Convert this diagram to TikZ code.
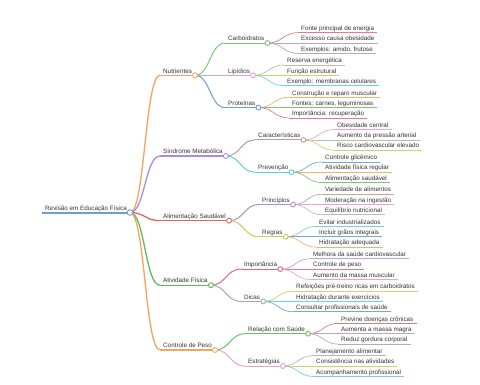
\documentclass[tikz,border=0pt]{standalone}
\usepackage{fontspec}
\setmainfont{Liberation Sans}
\usetikzlibrary{calc}
\definecolor{txt}{HTML}{333333}
\definecolor{cRoot}{HTML}{6C9FD2}
\definecolor{cNut}{HTML}{F5A55A}
\definecolor{cSin}{HTML}{A58FD8}
\definecolor{cAli}{HTML}{E06565}
\definecolor{cAti}{HTML}{5DBB5D}
\definecolor{cCon}{HTML}{F5A55A}
\definecolor{cCarb}{HTML}{7CC67C}
\definecolor{cLip}{HTML}{E99BD8}
\definecolor{cProt}{HTML}{6C9FD2}
\definecolor{cChar}{HTML}{B89C9C}
\definecolor{cPrev}{HTML}{5ECFDC}
\definecolor{cPrinc}{HTML}{A893D8}
\definecolor{cRegr}{HTML}{C9CD5A}
\definecolor{cImp}{HTML}{E06A7A}
\definecolor{cDic}{HTML}{A8A8A8}
\definecolor{cRel}{HTML}{6CC06C}
\definecolor{cEst}{HTML}{E9A2D2}
\definecolor{pRed}{HTML}{E8798A}
\definecolor{pLav}{HTML}{B8A5E0}
\definecolor{pBrn}{HTML}{BFA8A8}
\definecolor{pGry}{HTML}{BBBBBB}
\definecolor{pOli}{HTML}{CFD36A}
\definecolor{pCya}{HTML}{6FD3E0}
\definecolor{pOra}{HTML}{F5B070}
\definecolor{pGrn}{HTML}{7CC67C}
\definecolor{pPnk}{HTML}{EEA0D8}
\definecolor{pBlu}{HTML}{78A8D8}
\definecolor{pGL}{HTML}{BBB0B8}
\tikzset{
  lbl/.style={font=\fontsize{6.3}{7}\selectfont, text=txt, inner xsep=3pt, inner ysep=0pt},
  wroot/.style={line width=2pt},
  wone/.style={line width=1.3pt},
  wtwo/.style={line width=1pt},
  wthree/.style={line width=0.7pt},
  dotst/.style={fill=white, line width=0.9pt}
}
% name, x0, y, text, colour, width style
\newcommand\mnode[6]{%
  \coordinate (#1-s) at (#2,#3);
  \node[lbl, anchor=base west] (#1) at (#2,#3-2.3) {#4};
  \coordinate (#1-e) at (#1.east |- #1-s);
  \draw[#5,#6] (#1-s) -- (#1-e);
}
% parent, child, colour, width style
\newcommand\medge[4]{%
  \draw[#3,#4] (#1-e) .. controls ($(#1-e)!0.5!(#1-e -| #2-s)$) and ($(#2-s)!0.5!(#2-s -| #1-e)$) .. (#2-s);
}
\newcommand\mdot[3]{\draw[dotst,draw=#2] (#1-e) circle[radius=#3];}
% leaf with edge: parent, name, x0, y, text, colour
\newcommand\mleaf[6]{%
  \mnode{#2}{#3}{#4}{#5}{#6}{wthree}
  \medge{#1}{#2}{#6}{wthree}
}
\begin{document}
\begin{tikzpicture}[x=1pt,y=-1pt]
\useasboundingbox (0,0) rectangle (480,384);
\fill[white] (0,0) rectangle (480,384);

% root
\mnode{r}{42}{212.5}{Revisão em Educação Física}{cRoot}{wroot}

% level 1
\mnode{a}{160}{75.3}{Nutrientes}{cNut}{wone}
\mnode{b}{160}{156}{Síndrome Metabólica}{cSin}{wone}
\mnode{c}{160}{220.6}{Alimentação Saudável}{cAli}{wone}
\mnode{d}{160}{285.2}{Atividade Física}{cAti}{wone}
\mnode{f}{160}{349.9}{Controle de Peso}{cCon}{wone}
\medge{r}{a}{cNut}{wone}
\medge{r}{b}{cSin}{wone}
\medge{r}{c}{cAli}{wone}
\medge{r}{d}{cAti}{wone}
\medge{r}{f}{cCon}{wone}

% level 2
\mnode{aa}{225}{43}{Carboidratos}{cCarb}{wtwo}
\mnode{ab}{225}{75.3}{Lipídios}{cLip}{wtwo}
\mnode{ac}{225}{107.6}{Proteínas}{cProt}{wtwo}
\mnode{ba}{255}{139.9}{Características}{cChar}{wtwo}
\mnode{bb}{255}{172.2}{Prevenção}{cPrev}{wtwo}
\mnode{ca}{259}{204.5}{Princípios}{cPrinc}{wtwo}
\mnode{cb}{259}{236.8}{Regras}{cRegr}{wtwo}
\mnode{da}{241}{269.1}{Importância}{cImp}{wtwo}
\mnode{db}{241}{301.4}{Dicas}{cDic}{wtwo}
\mnode{fa}{245}{333.7}{Relação com Saúde}{cRel}{wtwo}
\mnode{fb}{245}{366}{Estratégias}{cEst}{wtwo}
\medge{a}{aa}{cCarb}{wtwo}
\medge{a}{ab}{cLip}{wtwo}
\medge{a}{ac}{cProt}{wtwo}
\medge{b}{ba}{cChar}{wtwo}
\medge{b}{bb}{cPrev}{wtwo}
\medge{c}{ca}{cPrinc}{wtwo}
\medge{c}{cb}{cRegr}{wtwo}
\medge{d}{da}{cImp}{wtwo}
\medge{d}{db}{cDic}{wtwo}
\medge{f}{fa}{cRel}{wtwo}
\medge{f}{fb}{cEst}{wtwo}

% leaves
\mleaf{aa}{aa1}{298}{32.7}{Fonte principal de energia}{pRed}
\mleaf{aa}{aa2}{298}{43}{Excesso causa obesidade}{pLav}
\mleaf{aa}{aa3}{298}{53.3}{Exemplos: amido, frutose}{pBrn}

\mleaf{ab}{ab1}{284}{65}{Reserva energética}{pGry}
\mleaf{ab}{ab2}{284}{75.3}{Função estrutural}{pOli}
\mleaf{ab}{ab3}{284}{85.6}{Exemplo: membranas celulares}{pCya}

\mleaf{ac}{ac1}{289}{97.3}{Construção e reparo muscular}{pOra}
\mleaf{ac}{ac2}{289}{107.6}{Fontes: carnes, leguminosas}{pGrn}
\mleaf{ac}{ac3}{289}{117.9}{Importância: recuperação}{pRed}

\mleaf{ba}{ba1}{334}{129.6}{Obesidade central}{pPnk}
\mleaf{ba}{ba2}{334}{139.9}{Aumento da pressão arterial}{pGry}
\mleaf{ba}{ba3}{334}{150.2}{Risco cardiovascular elevado}{pOli}

\mleaf{bb}{bb1}{322}{161.9}{Controle glicêmico}{pBlu}
\mleaf{bb}{bb2}{322}{172.2}{Atividade física regular}{pOra}
\mleaf{bb}{bb3}{322}{182.5}{Alimentação saudável}{pGrn}

\mleaf{ca}{ca1}{322}{194.2}{Variedade de alimentos}{pBrn}
\mleaf{ca}{ca2}{322}{204.5}{Moderação na ingestão}{pPnk}
\mleaf{ca}{ca3}{322}{214.8}{Equilíbrio nutricional}{pGry}

\mleaf{cb}{cb1}{316}{226.5}{Evitar industrializados}{pCya}
\mleaf{cb}{cb2}{316}{236.8}{Incluir grãos integrais}{pBlu}
\mleaf{cb}{cb3}{316}{247.1}{Hidratação adequada}{pOra}

\mleaf{da}{da1}{310}{258.8}{Melhora da saúde cardiovascular}{pLav}
\mleaf{da}{da2}{310}{269.1}{Controle de peso}{pRed}
\mleaf{da}{da3}{310}{279.4}{Aumento da massa muscular}{pPnk}

\mleaf{db}{db1}{293}{291.1}{Refeições pré-treino ricas em carboidratos}{pOli}
\mleaf{db}{db2}{293}{301.4}{Hidratação durante exercícios}{pCya}
\mleaf{db}{db3}{293}{311.7}{Consultar profissionais de saúde}{pBlu}

\mleaf{fa}{fa1}{338}{323.4}{Previne doenças crônicas}{pRed}
\mleaf{fa}{fa2}{338}{333.7}{Aumenta a massa magra}{pLav}
\mleaf{fa}{fa3}{338}{344}{Reduz gordura corporal}{pBrn}

\mleaf{fb}{fb1}{313}{355.7}{Planejamento alimentar}{pGL}
\mleaf{fb}{fb2}{313}{366}{Consistência nas atividades}{pOli}
\mleaf{fb}{fb3}{313}{376.3}{Acompanhamento profissional}{pCya}

% circles
\mdot{r}{cRoot}{2.8pt}
\mdot{a}{cNut}{2.5pt}
\mdot{b}{cSin}{2.5pt}
\mdot{c}{cAli}{2.5pt}
\mdot{d}{cAti}{2.5pt}
\mdot{f}{cCon}{2.5pt}
\mdot{aa}{cCarb}{2.4pt}
\mdot{ab}{cLip}{2.4pt}
\mdot{ac}{cProt}{2.4pt}
\mdot{ba}{cChar}{2.4pt}
\mdot{bb}{cPrev}{2.4pt}
\mdot{ca}{cPrinc}{2.4pt}
\mdot{cb}{cRegr}{2.4pt}
\mdot{da}{cImp}{2.4pt}
\mdot{db}{cDic}{2.4pt}
\mdot{fa}{cRel}{2.4pt}
\mdot{fb}{cEst}{2.4pt}
\end{tikzpicture}
\end{document}
